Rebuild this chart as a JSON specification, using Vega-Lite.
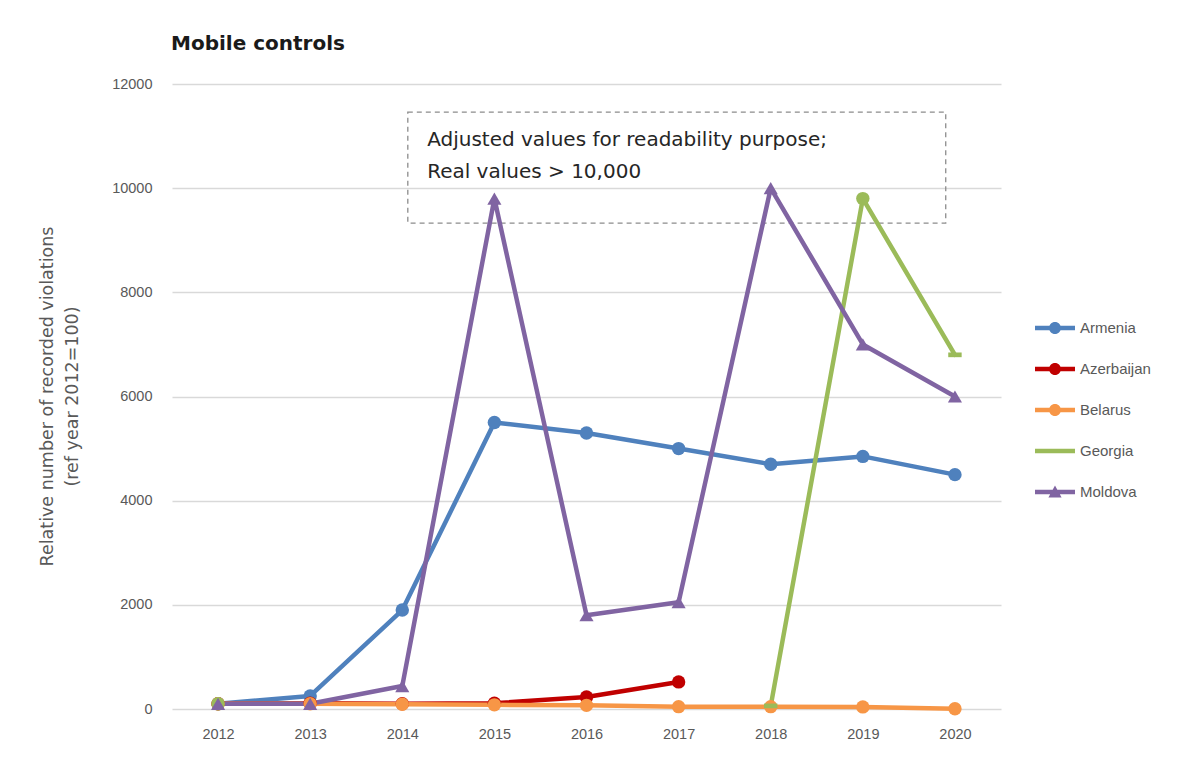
{
  "$schema": "https://vega.github.io/schema/vega-lite/v6.json",
  "width": 829,
  "height": 625,
  "autosize": "none",
  "padding": {"left": 172, "top": 84, "right": 202, "bottom": 56},
  "background": "white",
  "title": {
    "text": "Mobile controls",
    "anchor": "start",
    "frame": "group",
    "font": "DejaVu Sans",
    "fontSize": 20,
    "fontWeight": "bold",
    "color": "#1a1a1a",
    "baseline": "alphabetic",
    "offset": 6,
    "dx": -1
  },
  "datasets": {
    "series": [
      {"country": "Armenia", "year": 2012, "value": 100},
      {"country": "Armenia", "year": 2013, "value": 250},
      {"country": "Armenia", "year": 2014, "value": 1900},
      {"country": "Armenia", "year": 2015, "value": 5500},
      {"country": "Armenia", "year": 2016, "value": 5300},
      {"country": "Armenia", "year": 2017, "value": 5000},
      {"country": "Armenia", "year": 2018, "value": 4700},
      {"country": "Armenia", "year": 2019, "value": 4850},
      {"country": "Armenia", "year": 2020, "value": 4500},
      {"country": "Azerbaijan", "year": 2012, "value": 100},
      {"country": "Azerbaijan", "year": 2013, "value": 110},
      {"country": "Azerbaijan", "year": 2014, "value": 100},
      {"country": "Azerbaijan", "year": 2015, "value": 110},
      {"country": "Azerbaijan", "year": 2016, "value": 230},
      {"country": "Azerbaijan", "year": 2017, "value": 520},
      {"country": "Belarus", "year": 2012, "value": 100},
      {"country": "Belarus", "year": 2013, "value": 100},
      {"country": "Belarus", "year": 2014, "value": 90},
      {"country": "Belarus", "year": 2015, "value": 80},
      {"country": "Belarus", "year": 2016, "value": 70},
      {"country": "Belarus", "year": 2017, "value": 45},
      {"country": "Belarus", "year": 2018, "value": 45},
      {"country": "Belarus", "year": 2019, "value": 40},
      {"country": "Belarus", "year": 2020, "value": 5},
      {"country": "Georgia", "year": 2012, "value": 100},
      {"country": "Georgia", "year": 2013, "value": null},
      {"country": "Georgia", "year": 2014, "value": null},
      {"country": "Georgia", "year": 2015, "value": null},
      {"country": "Georgia", "year": 2016, "value": null},
      {"country": "Georgia", "year": 2017, "value": null},
      {"country": "Georgia", "year": 2018, "value": 60},
      {"country": "Georgia", "year": 2019, "value": 9800},
      {"country": "Georgia", "year": 2020, "value": 6800},
      {"country": "Moldova", "year": 2012, "value": 100},
      {"country": "Moldova", "year": 2013, "value": 100},
      {"country": "Moldova", "year": 2014, "value": 440},
      {"country": "Moldova", "year": 2015, "value": 9800},
      {"country": "Moldova", "year": 2016, "value": 1800},
      {"country": "Moldova", "year": 2017, "value": 2050},
      {"country": "Moldova", "year": 2018, "value": 10000},
      {"country": "Moldova", "year": 2019, "value": 7000},
      {"country": "Moldova", "year": 2020, "value": 6000}
    ],
    "noteBox": [
      {"year": 2014.06, "year_end": 2019.9, "value": 9330, "value_end": 11460}
    ],
    "noteText": [
      {"year": 2014.27, "value": 10925, "note": "Adjusted values for readability purpose;"},
      {"year": 2014.27, "value": 10310, "note": "Real values > 10,000"}
    ]
  },
  "encoding": {
    "x": {
      "field": "year",
      "type": "quantitative",
      "scale": {"domain": [2011.5, 2020.5], "nice": false, "zero": false},
      "axis": {
        "title": null,
        "values": [2012, 2013, 2014, 2015, 2016, 2017, 2018, 2019, 2020],
        "format": "d",
        "grid": false,
        "domain": false,
        "ticks": false,
        "labelPadding": 18
      }
    },
    "y": {
      "field": "value",
      "type": "quantitative",
      "scale": {"domain": [0, 12000], "nice": false},
      "axis": {
        "title": ["Relative  number of recorded violations", "(ref year 2012=100)"],
        "values": [0, 2000, 4000, 6000, 8000, 10000, 12000],
        "format": "d",
        "grid": true,
        "gridColor": "#d9d9d9",
        "gridWidth": 1.5,
        "domain": false,
        "ticks": false,
        "labelPadding": 20,
        "titleFont": "DejaVu Sans",
        "titleFontSize": 17.5,
        "titleFontWeight": "normal",
        "titleColor": "#595959",
        "titleAngle": -90,
        "titleBaseline": "top",
        "titleAlign": "center",
        "titleLineHeight": 25,
        "titleX": -134,
        "titleY": 312
      }
    }
  },
  "layer": [
    {
      "data": {"name": "noteBox"},
      "mark": {"type": "rect", "fill": null, "stroke": "#8c8c8c", "strokeWidth": 1.3, "strokeDash": [5, 4]},
      "encoding": {
        "x2": {"field": "year_end"},
        "y2": {"field": "value_end"}
      }
    },
    {
      "data": {"name": "noteText"},
      "mark": {"type": "text", "align": "left", "baseline": "middle", "font": "DejaVu Sans", "fontSize": 20, "color": "#262626"},
      "encoding": {
        "text": {"field": "note", "type": "nominal"}
      }
    },
    {
      "data": {"name": "series"},
      "mark": {"type": "line", "strokeWidth": 4.5, "strokeJoin": "round", "strokeCap": "round", "invalid": "break-paths-show-domains"},
      "encoding": {
        "color": {
          "field": "country",
          "type": "nominal",
          "scale": {
            "domain": ["Armenia", "Azerbaijan", "Belarus", "Georgia", "Moldova"],
            "range": ["#4f81bd", "#c00000", "#f79646", "#9bbb59", "#8064a2"]
          },
          "legend": {
            "title": null,
            "orient": "none",
            "legendX": 863,
            "legendY": 224,
            "direction": "vertical",
            "padding": 0,
            "symbolSize": 1600,
            "symbolStrokeWidth": 0,
            "labelFont": "Liberation Sans",
            "labelFontSize": 15,
            "labelColor": "#595959",
            "labelOffset": 5,
            "rowPadding": 13,
            "encode": {
              "symbols": {
                "update": {
                  "shape": {"signal": "datum.value === 'Georgia' ? 'M-1,-0.11H1V0.11H-1Z' : datum.value === 'Moldova' ? 'M-1,-0.11H1V0.11H-1Z M0,-0.33L0.33,0.27H-0.33Z' : 'M-1,-0.11H1V0.11H-1Z M-0.3,0A0.3,0.3 0 1,1 0.3,0A0.3,0.3 0 1,1 -0.3,0Z'"},
                  "fill": {"scale": "color", "field": "value"},
                  "stroke": {"value": "transparent"},
                  "strokeWidth": {"value": 0},
                  "opacity": {"value": 1}
                }
              }
            }
          }
        }
      }
    },
    {
      "data": {"name": "series"},
      "transform": [
        {"filter": "datum.country !== 'Moldova' && !(datum.country === 'Georgia' && (datum.year === 2018 || datum.year === 2020))"}
      ],
      "mark": {"type": "point", "shape": "circle", "filled": true, "size": 180, "opacity": 1, "strokeWidth": 0},
      "encoding": {
        "color": {"field": "country", "type": "nominal"}
      }
    },
    {
      "data": {"name": "series"},
      "transform": [
        {"filter": "datum.country === 'Georgia' && (datum.year === 2018 || datum.year === 2020)"}
      ],
      "mark": {"type": "point", "shape": "M-1,-0.35H1V0.35H-1Z", "filled": true, "size": 180, "opacity": 1, "strokeWidth": 0},
      "encoding": {
        "color": {"field": "country", "type": "nominal"}
      }
    },
    {
      "data": {"name": "series"},
      "transform": [
        {"filter": "datum.country === 'Moldova'"}
      ],
      "mark": {"type": "point", "shape": "triangle-up", "filled": true, "size": 200, "opacity": 1, "strokeWidth": 0},
      "encoding": {
        "color": {"field": "country", "type": "nominal"}
      }
    }
  ],
  "config": {
    "view": {"stroke": null},
    "axis": {
      "labelFont": "Liberation Sans",
      "labelFontSize": 14.5,
      "labelColor": "#595959"
    }
  }
}
